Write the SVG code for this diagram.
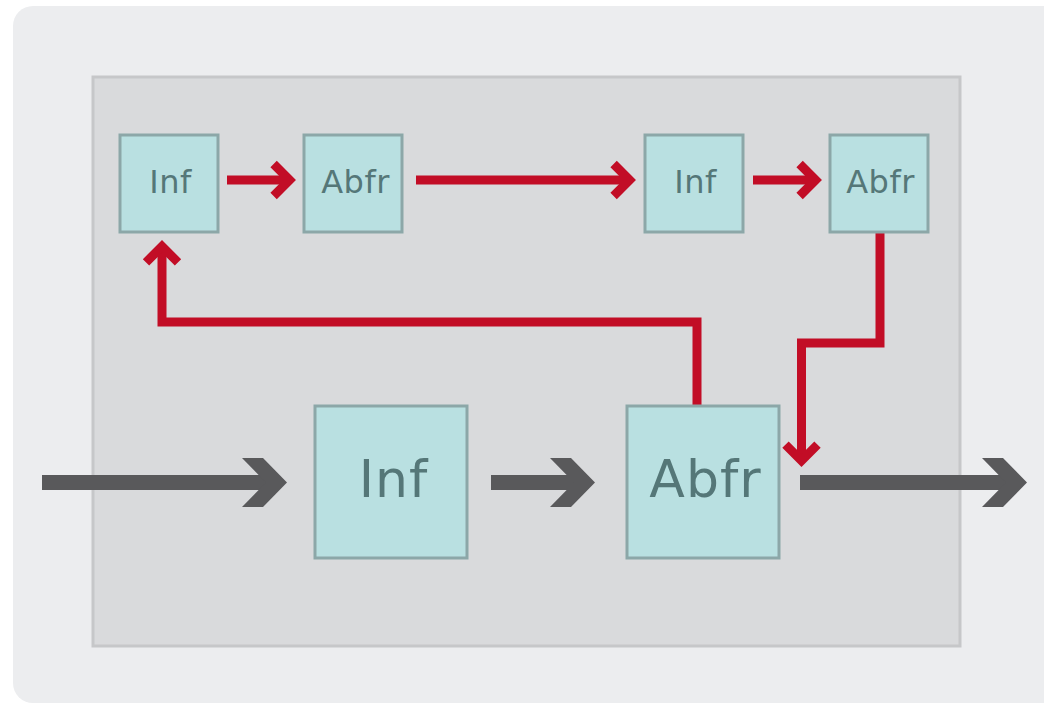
<svg xmlns="http://www.w3.org/2000/svg" width="1044" height="705" viewBox="0 0 1044 705">
  <style>
    .box { fill: #b9e0e1; stroke: #8ca7a8; stroke-width: 3; }
    .lbl { font-family: "DejaVu Sans", Verdana, sans-serif; fill: #557778; text-anchor: middle; }
    .sm { font-size: 32px; letter-spacing: 0.5px; }
    .lg { font-size: 52px; letter-spacing: 1px; }
    .red { fill: none; stroke: #c20d26; stroke-width: 9; stroke-linejoin: miter; stroke-linecap: butt; }
    .gray { fill: none; stroke: #59595b; stroke-width: 15; }
    .ghead { fill: #59595b; }
  </style>
  <defs>
    <!-- red chevron head, tip at origin, pointing right -->
    <path id="rh" class="red" d="M-22.4,-16 L-6.4,0 L-22.4,16"/>
    <!-- gray chevron head, tip at origin, pointing right -->
    <polygon id="gh" class="ghead" points="-45,-24.5 -24,-24.5 0,0 -24,24.5 -45,24.5 -21,0"/>
  </defs>

  <!-- backdrop panels -->
  <rect x="13" y="6" width="1060" height="697" rx="20" fill="#ecedef"/>
  <rect x="93" y="77" width="867" height="569" fill="#d9dadc" stroke="#c6c7c9" stroke-width="3"/>

  <!-- connectors -->
  <g id="connectors">
    <!-- gray main flow -->
    <line class="gray" x1="42" y1="482.5" x2="270" y2="482.5"/>
    <use href="#gh" transform="translate(287,482.5)"/>
    <line class="gray" x1="491" y1="482.5" x2="578" y2="482.5"/>
    <use href="#gh" transform="translate(595,482.5)"/>
    <line class="gray" x1="800" y1="482.5" x2="1010" y2="482.5"/>
    <use href="#gh" transform="translate(1027,482.5)"/>

    <!-- red upper chain -->
    <line class="red" x1="227" y1="180" x2="290" y2="180"/>
    <use href="#rh" transform="translate(296,180)"/>
    <line class="red" x1="416" y1="180" x2="630" y2="180"/>
    <use href="#rh" transform="translate(636,180)"/>
    <line class="red" x1="753" y1="180" x2="816" y2="180"/>
    <use href="#rh" transform="translate(822,180)"/>

    <!-- red feedback from lower Abfr to upper Inf -->
    <path class="red" d="M697,405 V322 H162 V247"/>
    <use href="#rh" transform="translate(162,240) rotate(-90)"/>

    <!-- red link from upper Abfr down to the output -->
    <path class="red" d="M880,233 V343 H801.5 V460"/>
    <use href="#rh" transform="translate(801.5,467) rotate(90)"/>
  </g>

  <!-- nodes -->
  <g id="inf-top-1">
    <rect class="box" x="120" y="135" width="98" height="97"/>
    <text class="lbl sm" x="170.5" y="193">Inf</text>
  </g>
  <g id="abfr-top-1">
    <rect class="box" x="304" y="135" width="98" height="97"/>
    <text class="lbl sm" x="355.5" y="193">Abfr</text>
  </g>
  <g id="inf-top-2">
    <rect class="box" x="645" y="135" width="98" height="97"/>
    <text class="lbl sm" x="695.5" y="193">Inf</text>
  </g>
  <g id="abfr-top-2">
    <rect class="box" x="830" y="135" width="98" height="97"/>
    <text class="lbl sm" x="880.5" y="193">Abfr</text>
  </g>
  <g id="inf-main">
    <rect class="box" x="315" y="406" width="152" height="152"/>
    <text class="lbl lg" x="393.5" y="497">Inf</text>
  </g>
  <g id="abfr-main">
    <rect class="box" x="627" y="406" width="152" height="152"/>
    <text class="lbl lg" x="705.5" y="497">Abfr</text>
  </g>
</svg>
